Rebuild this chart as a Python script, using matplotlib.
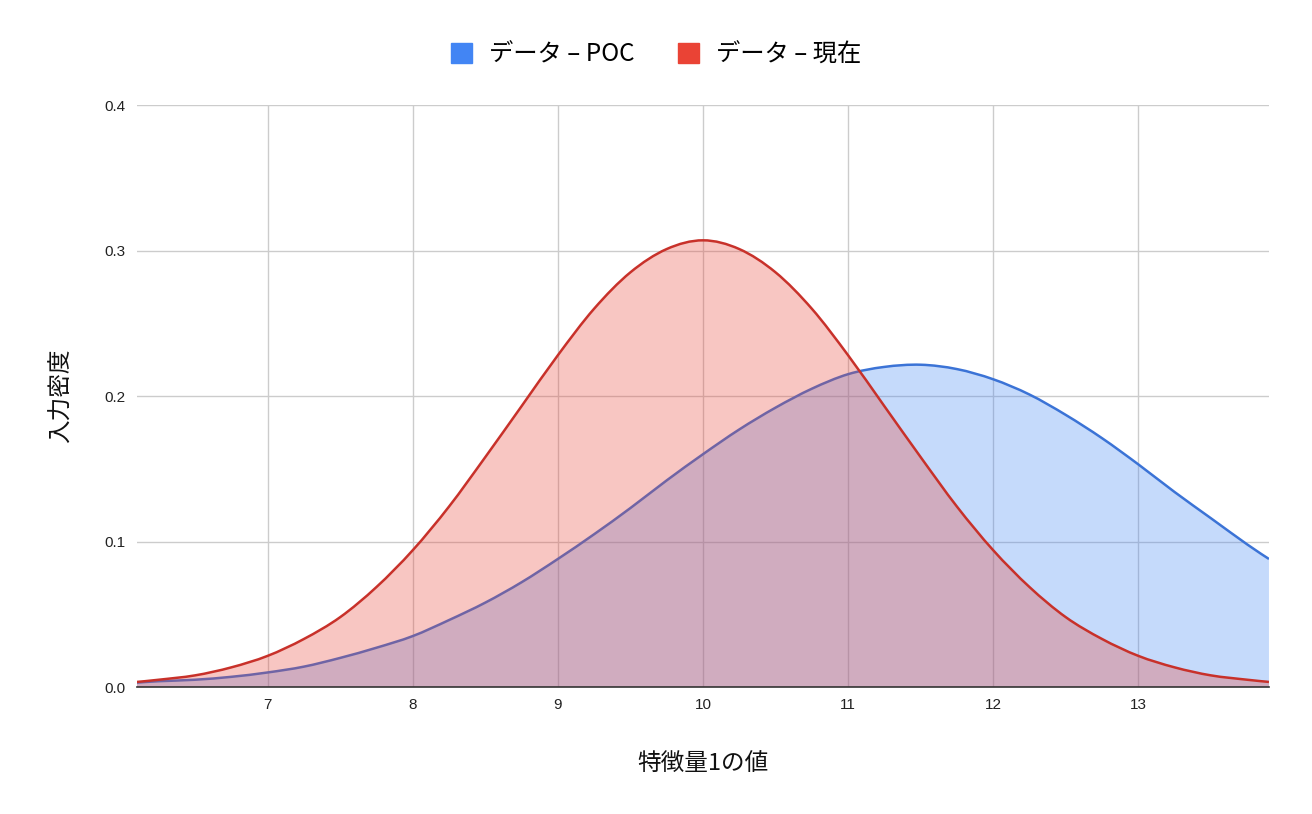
import matplotlib
matplotlib.use('Agg')
import matplotlib.pyplot as plt
from matplotlib.patches import Patch, PathPatch
from matplotlib.path import Path

plt.rcParams['font.family'] = ['Noto Sans CJK JP', 'DejaVu Sans']

# 特徴量1の値 (x)
x_vals = [6.1, 6.25, 6.5, 6.75, 7.0, 7.25, 7.5, 7.75, 8.0, 8.25, 8.5, 8.75,
          9.0, 9.25, 9.5, 9.75, 10.0, 10.25, 10.5, 10.75, 11.0, 11.25, 11.5,
          11.75, 12.0, 12.25, 12.5, 12.75, 13.0, 13.25, 13.5, 13.75, 13.9]

# データ – POC
poc = [0.003, 0.004, 0.005, 0.007, 0.010, 0.014, 0.020, 0.027, 0.035, 0.046,
       0.058, 0.072, 0.088, 0.105, 0.123, 0.142, 0.160, 0.177, 0.192, 0.205,
       0.215, 0.220, 0.2215, 0.2185, 0.2115, 0.201, 0.187, 0.171, 0.153,
       0.134, 0.116, 0.098, 0.088]

# データ – 現在
now = [0.0035, 0.005, 0.008, 0.0135, 0.0214, 0.033, 0.048, 0.0687, 0.094,
       0.124, 0.158, 0.193, 0.228, 0.260, 0.285, 0.301, 0.307, 0.301, 0.285,
       0.260, 0.228, 0.193, 0.158, 0.124, 0.094, 0.0687, 0.048, 0.033, 0.0214,
       0.0135, 0.008, 0.005, 0.0035]

x_ticks = [7, 8, 9, 10, 11, 12, 13]
y_ticks = [0.0, 0.1, 0.2, 0.3, 0.4]

blue = '#4285f4'
red = '#ea4335'


# smooth curve through the points (like the "smooth" line option in Sheets)
def smooth_verts(xs, ys):
    n = len(xs)
    verts = [(xs[0], ys[0])]
    codes = [Path.MOVETO]
    for i in range(n - 1):
        a = max(i - 1, 0)
        b = min(i + 2, n - 1)
        c1 = (xs[i] + (xs[i + 1] - xs[a]) / 6, ys[i] + (ys[i + 1] - ys[a]) / 6)
        c2 = (xs[i + 1] - (xs[b] - xs[i]) / 6, ys[i + 1] - (ys[b] - ys[i]) / 6)
        verts += [c1, c2, (xs[i + 1], ys[i + 1])]
        codes += [Path.CURVE4] * 3
    return verts, codes


def draw_series(ax, xs, ys, fill_col, line_col, z):
    v, c = smooth_verts(xs, ys)
    fv = v + [(xs[-1], 0), (xs[0], 0), (xs[0], 0)]
    fc = c + [Path.LINETO, Path.LINETO, Path.CLOSEPOLY]
    ax.add_patch(PathPatch(Path(fv, fc), facecolor=fill_col, alpha=0.3,
                           lw=0, zorder=z))
    ax.add_patch(PathPatch(Path(v, c), facecolor='none', edgecolor=line_col,
                           lw=1.8, zorder=z + 1))


fig = plt.figure(figsize=(13.12, 8.14), dpi=100)
ax = fig.add_axes([0.1044, 0.156, 0.8628, 0.715])

draw_series(ax, x_vals, poc, blue, '#3b73d6', 2)
draw_series(ax, x_vals, now, red, '#c8312a', 4)

ax.set_xlim(x_vals[0], x_vals[-1])
ax.set_ylim(0, 0.4)
ax.set_xticks(x_ticks)
ax.set_yticks(y_ticks)
ax.set_yticklabels(['%.1f' % v for v in y_ticks])
ax.grid(True, color='#cccccc', lw=1, zorder=0)
ax.set_axisbelow(True)
ax.tick_params(length=0, labelsize=11, colors='#222222', pad=8)
for lab in ax.get_xticklabels() + ax.get_yticklabels():
    lab.set_family(['Liberation Sans', 'DejaVu Sans'])

for s in ['top', 'right', 'left']:
    ax.spines[s].set_visible(False)
ax.spines['bottom'].set_color('#333333')
ax.spines['bottom'].set_linewidth(1.2)
ax.spines['bottom'].set_zorder(6)

ax.set_xlabel('特徴量1の値', fontsize=17, labelpad=29, color='#111111')
ax.set_ylabel('入力密度', fontsize=17, labelpad=23, color='#111111')

handles = [Patch(color=blue, label='データ – POC'),
           Patch(color=red, label='データ – 現在')]
fig.legend(handles=handles, loc='center', bbox_to_anchor=(0.5, 0.933), ncol=2,
           frameon=False, fontsize=17.5, handlelength=0.85, handleheight=0.85,
           handletextpad=0.7, columnspacing=1.8)

fig.savefig('out.png', dpi=100, facecolor='white')
